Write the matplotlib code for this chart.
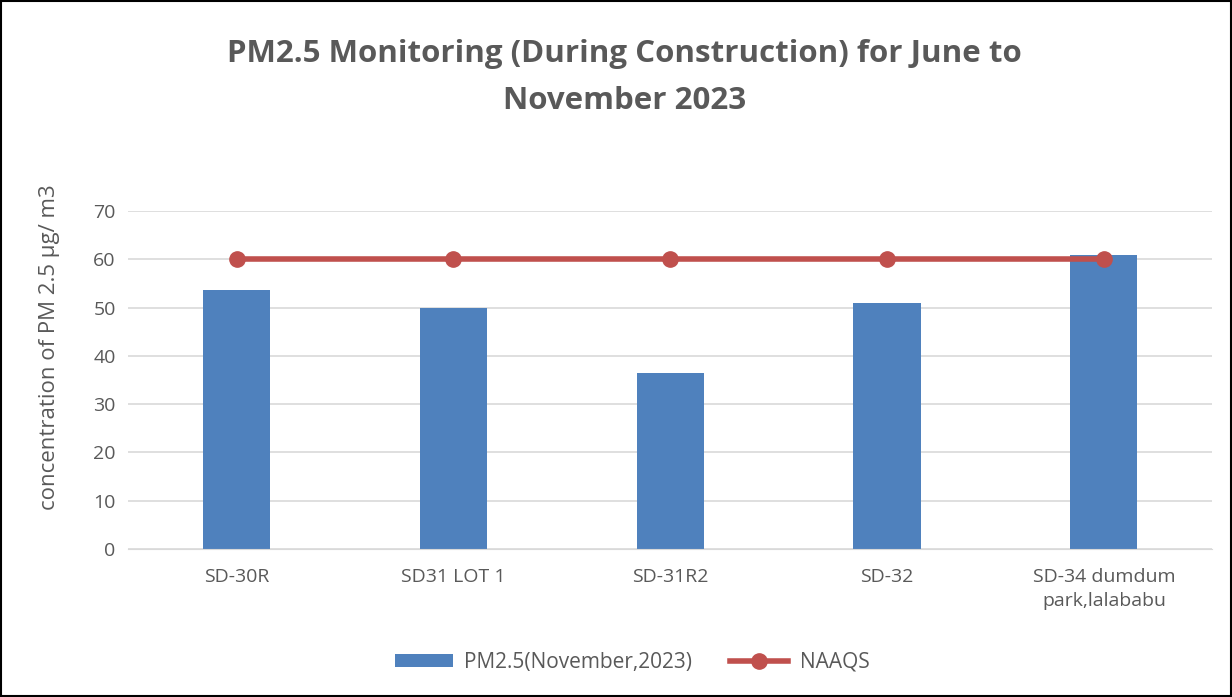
import matplotlib.pyplot as plt
import numpy as np

sites = ['SD-30R', 'SD31 LOT 1', 'SD-31R2', 'SD-32', 'SD-34 dumdum\npark,lalababu']
pm25 = [53.7, 50.0, 36.5, 51.0, 61.0]
naaqs = [60, 60, 60, 60, 60]

plt.rcParams['font.family'] = ['Open Sans', 'DejaVu Sans']
grey = '#595959'

fig = plt.figure(figsize=(12.32, 6.97), dpi=100)
ax = fig.add_axes([0.104, 0.2123, 0.88, 0.4849])

x = np.arange(len(sites))
bars = ax.bar(x, pm25, width=0.31, color='#4f81bd', label='PM2.5(November,2023)', zorder=2)
line, = ax.plot(x, naaqs, color='#c0504d', lw=4, marker='o', ms=11, label='NAAQS', zorder=3)

ax.set_xlim(-0.5, len(sites) - 0.5)
ax.set_ylim(0, 70)
ax.set_yticks(range(0, 71, 10))
ax.set_xticks(x)
ax.set_xticklabels(sites, fontsize=14, color=grey, linespacing=1.4)
ax.tick_params(axis='y', labelsize=14, labelcolor=grey, length=0, pad=9)
ax.tick_params(axis='x', length=0, pad=14)
ax.grid(axis='y', color='#d9d9d9', lw=1.2, zorder=0)
for s in ['top', 'right', 'left']:
    ax.spines[s].set_visible(False)
ax.spines['bottom'].set_color('#d9d9d9')
ax.set_ylabel('concentration of PM 2.5 µg/ m3', fontsize=16, color=grey)
ax.yaxis.set_label_coords(-0.063, 0.598)

fig.text(0.507, 0.889, 'PM2.5 Monitoring (During Construction) for June to\nNovember 2023',
         ha='center', va='center', fontsize=22.5, fontweight='bold', color=grey, linespacing=1.75)

leg = fig.legend([bars, line], ['PM2.5(November,2023)', 'NAAQS'], loc='center',
                 bbox_to_anchor=(0.513, 0.05), ncol=2, frameon=False,
                 fontsize=15, handlelength=2.8, handleheight=0.6, handletextpad=0.55,
                 columnspacing=1.8)
for t in leg.get_texts():
    t.set_color(grey)

fig.patches.append(plt.Rectangle((0.001, 0.001), 0.998, 0.997, transform=fig.transFigure,
                                 fill=False, edgecolor='black', lw=1.5))

fig.savefig('out.png', dpi=100)
